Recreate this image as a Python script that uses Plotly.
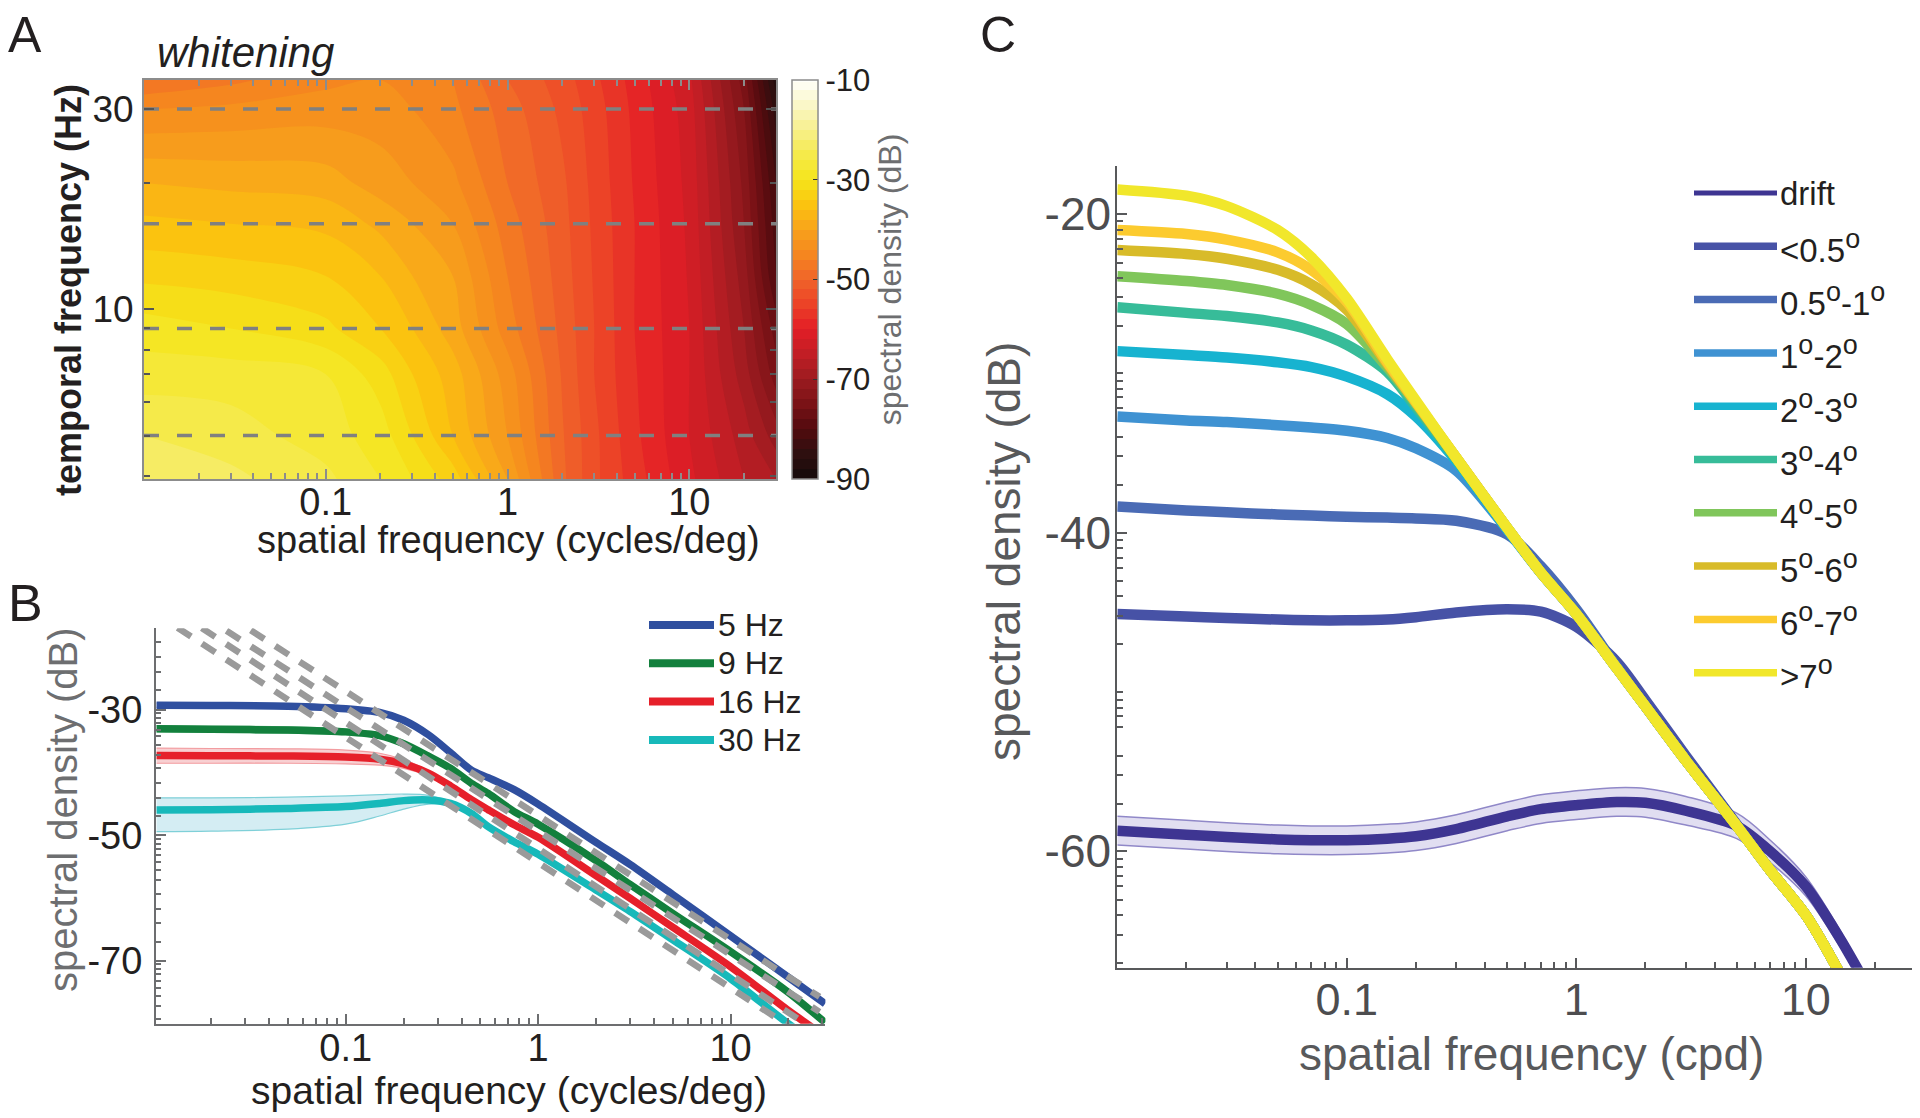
import math
import plotly.graph_objects as go

W, H = 1920, 1118
OFF = 8  # page body margin of the exported html
FONT = "Liberation Sans, Arial, Helvetica, sans-serif"


def fx(x):
    return (x - OFF) / W


def fy(y):
    return 1 - (y - OFF) / H


# ---------------- Panel A : whitening map ----------------
sf_a = [0.01, 0.03, 0.1, 0.2, 0.3, 0.5, 1, 2, 3, 5, 10, 20, 30]
tf_a = [3.94, 5, 7, 9, 12, 16, 20, 30, 35.2]
z_a = [
    [-22, -23.5, -25.5, -28, -30, -33, -40, -49.5, -53.5, -57, -61.5, -66, -68],
    [-24, -25, -27, -29, -32, -36, -42, -49.8, -53.5, -57.5, -62, -67, -71],
    [-27, -27, -28, -31, -34, -37, -43, -50.2, -54, -57.8, -62, -69, -75],
    [-29, -30, -31.5, -34, -36, -39, -45, -50.6, -54, -58, -62, -70, -77],
    [-32.5, -33, -34, -36, -38, -40, -46, -51, -54.2, -58, -62.2, -71, -80],
    [-35.5, -36, -36.5, -38.5, -40, -42, -47, -51.3, -54.4, -58, -62.4, -72, -81],
    [-38, -38.5, -39, -41, -42, -43.5, -48, -51.6, -54.6, -58.2, -62.6, -72.5, -82],
    [-44, -43.5, -43, -43, -44, -45.5, -49, -52.5, -55, -58.5, -63, -74, -85],
    [-48, -46.5, -44.5, -44, -45, -46, -50, -53, -55.5, -58.8, -63.5, -75, -87],
]
cbar_ticks = [-90, -70, -50, -30, -10]
hot_scale = [
    [0.0, "#140a0a"], [0.0625, "#2e0f0f"], [0.125, "#520b0e"], [0.1875, "#7a1216"],
    [0.25, "#9c1b20"], [0.3125, "#c21e25"], [0.375, "#e31e26"], [0.4375, "#ec4327"],
    [0.5, "#f0632a"], [0.5625, "#f5861f"], [0.625, "#f8a21b"], [0.6875, "#fbc30f"],
    [0.75, "#f5e51a"], [0.8125, "#f5ea4a"], [0.875, "#f7f08c"], [0.9375, "#faf7c8"],
    [1.0, "#fffffa"],
]

# ---------------- Panel B : temporal frequency slices ----------------
freq_hz = [5, 9, 16, 30]
freq_labels = ["5 Hz", "9 Hz", "16 Hz", "30 Hz"]
freq_colors = ["#2f4f9f", "#13803d", "#e6202a", "#17b9ba"]
band_fill_b = ["rgba(120,140,200,0.35)", "rgba(120,200,140,0.35)", "rgba(240,150,155,0.45)", "rgba(170,220,232,0.5)"]
band_edge_b = ["#8ea0d0", "#7fc89a", "#f29ca0", "#7fd0d8"]

sf_b = [0.0104, 0.02, 0.05, 0.1, 0.15, 0.2, 0.27, 0.35, 0.45, 0.55, 0.75, 1, 2, 3, 5, 10, 20, 31]
b_5hz = [-29.25, -29.3, -29.4, -29.8, -30.4, -31.65, -34.0, -36.8, -39.6, -40.8, -42.7, -45.0, -51.1, -54.6, -59.4, -66.0, -72.6, -76.8]
b_9hz = [-33.0, -33.1, -33.2, -33.5, -34.1, -35.4, -37.4, -39.3, -41.7, -43.3, -46.2, -48.2, -54.0, -57.8, -62.4, -68.5, -75.0, -79.8]
b_16hz = [-37.25, -37.3, -37.35, -37.5, -37.85, -38.6, -40.1, -42.1, -44.3, -45.9, -48.3, -50.3, -56.4, -60.0, -64.6, -70.9, -77.9, -82.0]
b_30hz = [-45.95, -45.9, -45.7, -45.4, -44.9, -44.45, -44.35, -44.9, -46.5, -48.6, -51.0, -53.0, -58.7, -62.1, -66.6, -72.8, -80.0, -84.0]
b_curves = [b_5hz, b_9hz, b_16hz, b_30hz]

band_sf_b = [0.0104, 0.02, 0.05, 0.1, 0.15, 0.2, 0.27, 0.35, 0.45]
b_upper = [
    [-28.9, -28.95, -29.05, -29.45, -30.1, -31.4, -33.8, -36.6, -39.4],
    [-32.5, -32.6, -32.7, -33.05, -33.7, -35.05, -37.1, -39.2, -41.6],
    [-36.1, -36.15, -36.2, -36.4, -36.9, -37.9, -39.7, -41.8, -44.0],
    [-44.0, -44.0, -43.9, -43.7, -43.5, -43.4, -43.6, -44.6, -46.4],
]
b_lower = [
    [-29.6, -29.65, -29.75, -30.15, -30.7, -31.9, -34.2, -37.0, -39.8],
    [-33.5, -33.6, -33.7, -33.95, -34.5, -35.75, -37.7, -39.6, -42.0],
    [-38.5, -38.5, -38.5, -38.6, -38.8, -39.3, -40.5, -42.2, -44.4],
    [-49.4, -49.3, -49.0, -48.2, -46.9, -45.8, -45.0, -45.1, -46.8],
]
# power-law fits (dashed grey): end points
fit_sf_lo = [0.01, 0.01, 0.01, 0.01]
fit_db_lo = [-7.3, -9.9, -11.9, -14.4]
fit_sf_hi = [29, 29, 26, 20]
fit_db_hi = [-75.7, -78.1, -80.5, -80.3]

# ---------------- Panel C : eccentricity ----------------
SUP = '<sup><span style="font-size:27px">o</span></sup>'
sf_c = [0.01, 0.02, 0.03, 0.05, 0.07, 0.1, 0.15, 0.2, 0.3, 0.5, 0.7, 1, 1.5, 2, 3, 5, 7, 10, 14, 17]
c_labels = ["drift", "&lt;0.5" + SUP, "0.5" + SUP + "-1" + SUP, "1" + SUP + "-2" + SUP,
            "2" + SUP + "-3" + SUP, "3" + SUP + "-4" + SUP, "4" + SUP + "-5" + SUP,
            "5" + SUP + "-6" + SUP, "6" + SUP + "-7" + SUP, "&gt;7" + SUP]
c_colors = ["#3e3592", "#4752a6", "#4a6bb5", "#3f92d2", "#17b3d0", "#37bc99", "#80c65b", "#d8bb29", "#fccb2f", "#f1e72b"]
c_drift = [-58.7, -58.95, -59.1, -59.25, -59.3, -59.3, -59.2, -59.05, -58.6, -57.8, -57.35, -57.1, -56.9, -56.95, -57.45, -58.4, -60.0, -62.2, -65.4, -67.5]
c_drift_hi = [-57.8, -58.05, -58.2, -58.35, -58.4, -58.4, -58.3, -58.15, -57.7, -56.9, -56.45, -56.2, -56.0, -56.05, -56.55, -57.6, -59.3, -61.6, -64.9, -67.1]
c_drift_lo = [-59.6, -59.85, -60.0, -60.15, -60.2, -60.2, -60.1, -59.95, -59.5, -58.7, -58.25, -58.0, -57.8, -57.85, -58.35, -59.2, -60.7, -62.8, -65.9, -67.9]
c_lt05 = [-45.1, -45.25, -45.35, -45.45, -45.5, -45.5, -45.45, -45.3, -45.0, -44.8, -44.95, -45.9, -48.1, -50.5, -54.0, -58.3, -61.2, -64.0, -67.6, -70.0]
c_05_1 = [-38.35, -38.6, -38.72, -38.85, -38.92, -39.0, -39.05, -39.1, -39.25, -40.1, -42.1, -44.8, -48.4, -50.9, -54.3, -58.4, -61.2, -64.0, -67.6, -70.0]
c_1_2 = [-32.7, -32.95, -33.05, -33.25, -33.4, -33.6, -34.05, -34.7, -36.1, -39.8, -42.5, -45.1, -48.5, -50.9, -54.3, -58.4, -61.2, -64.0, -67.6, -70.0]
c_2_3 = [-28.6, -28.85, -29.0, -29.3, -29.6, -30.2, -31.3, -32.7, -35.5, -39.8, -42.5, -45.1, -48.5, -50.9, -54.3, -58.4, -61.2, -64.0, -67.6, -70.0]
c_3_4 = [-25.85, -26.2, -26.4, -26.8, -27.3, -28.2, -29.9, -32.1, -35.4, -39.7, -42.5, -45.1, -48.5, -50.9, -54.3, -58.4, -61.2, -64.0, -67.6, -70.0]
c_4_5 = [-23.9, -24.2, -24.45, -25.0, -25.7, -26.9, -29.6, -31.9, -35.3, -39.7, -42.5, -45.1, -48.5, -50.9, -54.3, -58.4, -61.2, -64.0, -67.6, -70.0]
c_5_6 = [-22.25, -22.5, -22.8, -23.5, -24.4, -26.0, -29.4, -31.8, -35.3, -39.7, -42.5, -45.1, -48.5, -50.9, -54.3, -58.4, -61.2, -64.0, -67.6, -70.0]
c_6_7 = [-21.0, -21.25, -21.6, -22.4, -23.5, -25.5, -29.3, -31.8, -35.3, -39.7, -42.5, -45.1, -48.5, -50.9, -54.3, -58.4, -61.2, -64.0, -67.6, -70.0]
c_gt7 = [-18.45, -18.85, -19.5, -21.0, -22.7, -25.3, -29.1, -31.7, -35.3, -39.7, -42.5, -45.1, -48.5, -50.9, -54.3, -58.4, -61.2, -64.0, -67.6, -70.0]
c_curves = [c_drift, c_lt05, c_05_1, c_1_2, c_2_3, c_3_4, c_4_5, c_5_6, c_6_7, c_gt7]

fig = go.Figure()

# ---- A ----
fig.add_trace(go.Contour(
    x=sf_a, y=tf_a, z=z_a, xaxis="x", yaxis="y",
    colorscale=hot_scale, zauto=False, zmin=-90, zmax=-10,
    contours=dict(start=-90, end=-10, size=2, coloring="fill", showlines=False),
    line=dict(width=0, smoothing=1.0), hoverinfo="skip",
    colorbar=dict(
        x=fx(792), xanchor="left", y=fy((80 + 479) / 2), yanchor="middle",
        len=(479 - 80) / H, lenmode="fraction", thickness=26, thicknessmode="pixels",
        xpad=0, ypad=0, outlinecolor="#8c8c8c", outlinewidth=1.5,
        tickmode="array", tickvals=cbar_ticks, ticktext=[str(v) for v in cbar_ticks],
        ticks="inside", ticklen=5, tickcolor="#333333",
        tickfont=dict(family=FONT, size=31, color="#231f20"),
        title=dict(text="spectral density (dB)", side="right",
                   font=dict(family=FONT, size=32, color="#6d6e70")),
    ),
))
for tf in freq_hz:
    fig.add_trace(go.Scatter(
        x=[sf_a[0], sf_a[-1]], y=[tf, tf], xaxis="x", yaxis="y", mode="lines",
        line=dict(color="#808080", width=3.5, dash="15px,18px"),
        showlegend=False, hoverinfo="skip"))

# ---- B ----
for i in range(4):
    fig.add_trace(go.Scatter(x=band_sf_b, y=b_upper[i], xaxis="x2", yaxis="y2", mode="lines",
                             line=dict(color=band_edge_b[i], width=1.2, shape="spline"),
                             showlegend=False, hoverinfo="skip"))
    fig.add_trace(go.Scatter(x=band_sf_b, y=b_lower[i], xaxis="x2", yaxis="y2", mode="lines",
                             line=dict(color=band_edge_b[i], width=1.2, shape="spline"),
                             fill="tonexty", fillcolor=band_fill_b[i],
                             showlegend=False, hoverinfo="skip"))
for i in [3, 2, 1, 0]:
    fig.add_trace(go.Scatter(x=sf_b, y=b_curves[i], xaxis="x2", yaxis="y2", mode="lines",
                             line=dict(color=freq_colors[i], width=7.5, shape="spline", smoothing=0.8),
                             name=freq_labels[i], showlegend=False, hoverinfo="skip"))
for i in range(4):
    fig.add_trace(go.Scatter(x=[fit_sf_lo[i], fit_sf_hi[i]], y=[fit_db_lo[i], fit_db_hi[i]],
                             xaxis="x2", yaxis="y2", mode="lines",
                             line=dict(color="#9a9a9a", width=6.5, dash="16px,13px"),
                             showlegend=False, hoverinfo="skip"))

# ---- C ----
fig.add_trace(go.Scatter(x=sf_c, y=c_drift_hi, xaxis="x3", yaxis="y3", mode="lines",
                         line=dict(color="#9088c8", width=1.5, shape="spline"),
                         showlegend=False, hoverinfo="skip"))
fig.add_trace(go.Scatter(x=sf_c, y=c_drift_lo, xaxis="x3", yaxis="y3", mode="lines",
                         line=dict(color="#9088c8", width=1.5, shape="spline"),
                         fill="tonexty", fillcolor="rgba(200,194,230,0.55)",
                         showlegend=False, hoverinfo="skip"))
for i, yv in enumerate(c_curves):
    fig.add_trace(go.Scatter(x=sf_c, y=yv, xaxis="x3", yaxis="y3", mode="lines",
                             line=dict(color=c_colors[i], width=10.5, shape="spline", smoothing=0.8),
                             showlegend=False, hoverinfo="skip"))


# ---------------- axes ----------------
def minor_log(lo, hi):
    vals = []
    for e in range(-3, 3):
        for m in range(2, 10):
            v = m * 10 ** e
            if lo <= v <= hi:
                vals.append(v)
    return vals


def logx(domain, anchor, rng, lo, hi, size, color, line, mirror=False, standoff=0):
    return dict(type="log", domain=domain, anchor=anchor, range=rng,
                tickmode="array", tickvals=[0.1, 1, 10], ticktext=["0.1", "1", "10"],
                ticks="inside", ticklen=10, tickwidth=1.8, tickcolor=line,
                showline=True, linecolor=line, linewidth=2, mirror=mirror,
                showgrid=False, zeroline=False, ticklabelstandoff=standoff,
                tickfont=dict(family=FONT, size=size, color=color),
                minor=dict(tickmode="array", tickvals=minor_log(lo, hi), ticks="inside",
                           ticklen=6, tickwidth=1.5, tickcolor=line, showgrid=False))


lay = dict(
    width=W, height=H, margin=dict(l=0, r=0, t=0, b=0),
    paper_bgcolor="white", plot_bgcolor="white", showlegend=False,
    font=dict(family=FONT, color="#231f20"),
)

# A axes
lay["xaxis"] = logx([fx(144), fx(776)], "y", [-2, math.log10(30)], 0.01, 30, 38, "#231f20", "#8c8c8c",
                    mirror="ticks", standoff=-12)
lay["yaxis"] = dict(type="log", domain=[fy(479), fy(80)], anchor="x",
                    range=[math.log10(3.94), math.log10(35.2)],
                    tickmode="array", tickvals=[10, 30], ticktext=["10", "30"],
                    ticks="inside", ticklen=10, tickwidth=1.8, tickcolor="#555555",
                    showline=True, linecolor="#8c8c8c", linewidth=2, mirror="ticks",
                    showgrid=False, zeroline=False, ticklabelstandoff=1,
                    tickfont=dict(family=FONT, size=37, color="#231f20"),
                    minor=dict(tickmode="array", tickvals=[4, 5, 6, 7, 8, 9, 20], ticks="inside",
                               ticklen=6, tickwidth=1.5, tickcolor="#555555", showgrid=False))

# B axes
b_minor = []
for base in [-10, -30, -50, -70]:
    for off in [0.53, 1.32, 2.12, 3.17, 4.23, 5.56, 7.14, 9.26, 11.64, 14.0, 16.9]:
        v = base - off
        if -80 <= v <= -17:
            b_minor.append(v)
lay["xaxis2"] = logx([fx(156), fx(825.4)], "y2", [-1.986, 1.493], 0.0104, 31, 38, "#231f20", "#6d6e70",
                     standoff=-10)
lay["yaxis2"] = dict(domain=[fy(1023.8), fy(628.3)], anchor="x2", range=[-80, -17],
                     tickmode="array", tickvals=[-70, -50, -30], ticktext=["-70", "-50", "-30"],
                     ticks="inside", ticklen=10, tickwidth=1.8, tickcolor="#6d6e70",
                     showline=True, linecolor="#6d6e70", linewidth=2,
                     showgrid=False, zeroline=False, ticklabelstandoff=4,
                     tickfont=dict(family=FONT, size=38, color="#231f20"),
                     minor=dict(tickmode="array", tickvals=b_minor, ticks="inside",
                                ticklen=5, tickwidth=1.5, tickcolor="#6d6e70", showgrid=False))

# C axes
c_minor = []
for base in [0, -20, -40, -60]:
    for off in [0.46, 0.98, 1.57, 2.2, 3.04, 4.0, 5.23, 7.0, 10.0, 10.5, 11.0, 11.5, 12.2, 14.0, 15.2, 17.0]:
        v = base - off
        if -67.3 <= v <= -17:
            c_minor.append(v)
lay["xaxis3"] = logx([fx(1117.3), fx(1916.7)], "y3", [-2, 1.483], 0.01, 30.4, 45, "#4d4d4f", "#58595b",
                     standoff=-9)
lay["yaxis3"] = dict(domain=[fy(967.7), fy(166.3)], anchor="x3", range=[-67.3, -17],
                     tickmode="array", tickvals=[-60, -40, -20], ticktext=["-60", "-40", "-20"],
                     ticks="inside", ticklen=10, tickwidth=1.8, tickcolor="#58595b",
                     showline=True, linecolor="#58595b", linewidth=2,
                     showgrid=False, zeroline=False, ticklabelstandoff=-5,
                     tickfont=dict(family=FONT, size=46, color="#4d4d4f"),
                     minor=dict(tickmode="array", tickvals=c_minor, ticks="inside",
                                ticklen=6, tickwidth=1.5, tickcolor="#58595b", showgrid=False))

ann = []


def text(x, y, s, size, color="#231f20", angle=0, xanchor="center", yanchor="middle"):
    ann.append(dict(x=fx(x), y=fy(y), xref="paper", yref="paper", text=s, showarrow=False,
                    textangle=angle, xanchor=xanchor, yanchor=yanchor,
                    font=dict(family=FONT, size=size, color=color)))


# panel letters
text(6, 35, "A", 50, xanchor="left")
text(6, 603, "B", 52, xanchor="left")
text(978, 35, "C", 50, xanchor="left")
text(155, 52, "<i>whitening</i>", 42, xanchor="left")

# axis titles
text(508, 540, "spatial frequency (cycles/deg)", 38)
text(68, 290, "<b>temporal frequency (Hz)</b>", 36, angle=-90)
text(509, 1090, "spatial frequency (cycles/deg)", 39)
text(63, 810, "spectral density (dB)", 40, color="#6d6e70", angle=-90)
text(1531, 1054, "spatial frequency (cpd)", 46, color="#58595b")
text(1004, 552, "spectral density (dB)", 46, color="#58595b", angle=-90)

shapes = []
# legend B
for i in range(4):
    yy = 625 + 38.3 * i
    shapes.append(dict(type="line", xref="paper", yref="paper", x0=fx(649), x1=fx(714),
                       y0=fy(yy), y1=fy(yy), line=dict(color=freq_colors[i], width=8)))
    text(716, yy, freq_labels[i], 32, xanchor="left")
# legend C
for i in range(10):
    yy = 193 + 53.3 * i
    shapes.append(dict(type="line", xref="paper", yref="paper", x0=fx(1694), x1=fx(1777),
                       y0=fy(yy), y1=fy(yy), line=dict(color=c_colors[i], width=5 if i == 0 else 7.5)))
    text(1778, yy, c_labels[i], 33, xanchor="left")

lay["annotations"] = ann
lay["shapes"] = shapes
fig.update_layout(**lay)
fig.write_html("out.html")
